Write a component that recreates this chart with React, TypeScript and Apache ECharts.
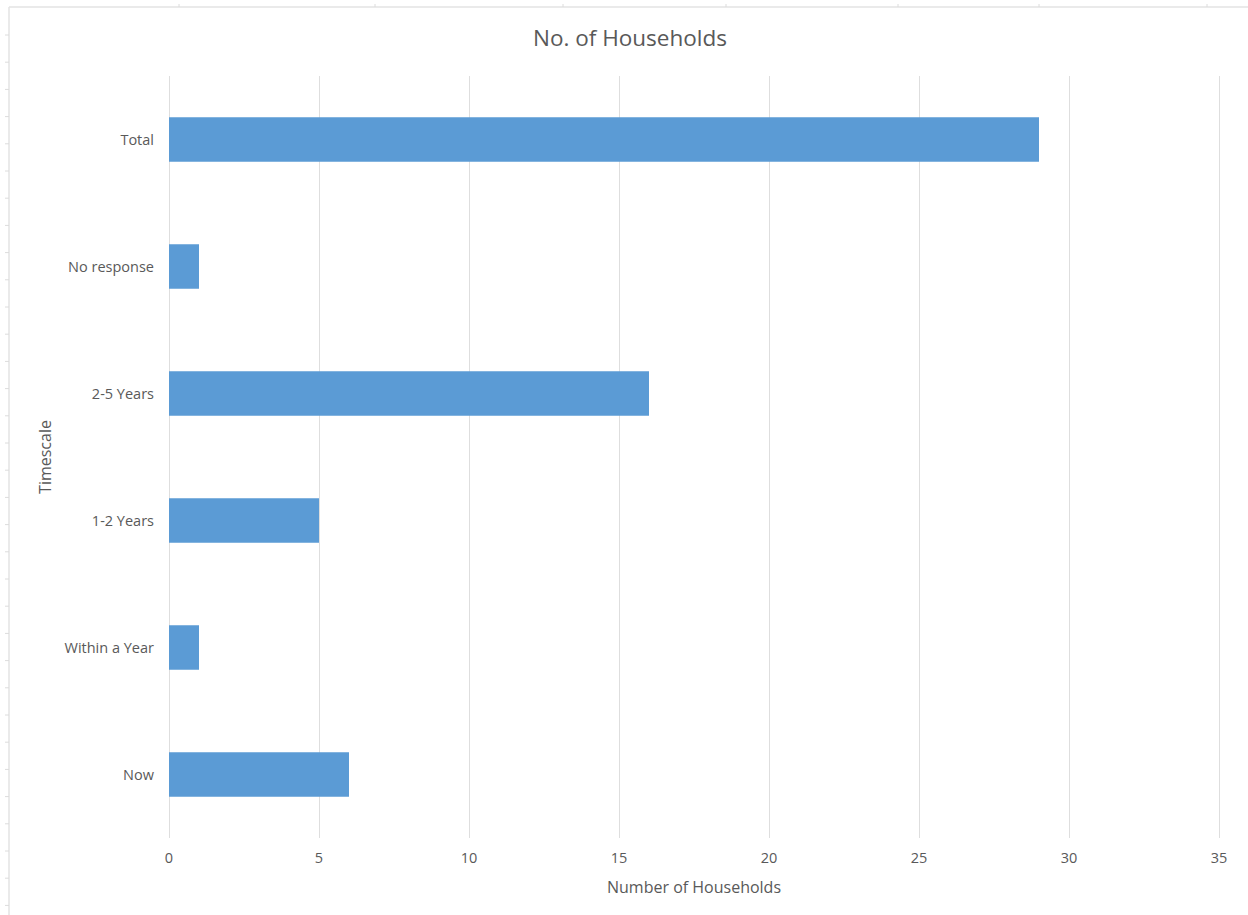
import React, { useEffect, useRef } from "react";
import * as echarts from "echarts";

const categories = ["Now", "Within a Year", "1-2 Years", "2-5 Years", "No response", "Total"];
const households = [6, 1, 5, 16, 1, 29];
const xTicks = { min: 0, max: 35, interval: 5 };

const FONT = "'Open Sans', 'Noto Sans', sans-serif";
const TEXT = "#595959";

export default function App() {
  const ref = useRef<HTMLDivElement>(null);
  useEffect(() => {
    document.body.style.margin = "0";
    const chart = echarts.init(ref.current!, null, { renderer: "svg" });
    const leftTicks: any[] = [];
    for (let y = 35; y < 912; y += 27.2) {
      leftTicks.push({
        type: "line",
        shape: { x1: 5, y1: y, x2: 9, y2: y },
        style: { stroke: "#dcdcdc", lineWidth: 1 },
        silent: true,
      });
    }
    const topTicks = [179, 375, 563, 726, 898, 1039, 1207].map((x) => ({
      type: "line",
      shape: { x1: x, y1: 4, x2: x, y2: 7 },
      style: { stroke: "#dcdcdc", lineWidth: 1 },
      silent: true,
    }));
    chart.setOption({
      animation: false,
      backgroundColor: "#ffffff",
      title: {
        text: "No. of Households",
        left: 528,
        top: 21,
        textStyle: { fontFamily: FONT, fontSize: 22.5, fontWeight: "normal", color: TEXT },
      },
      graphic: [
        { type: "line", shape: { x1: 9, y1: 7, x2: 1248, y2: 7 }, style: { stroke: "#e3e3e3", lineWidth: 1.5 }, silent: true },
        { type: "line", shape: { x1: 9, y1: 7, x2: 9, y2: 915 }, style: { stroke: "#e3e3e3", lineWidth: 1.5 }, silent: true },
        ...leftTicks,
        ...topTicks,
      ],
      grid: { left: 169, right: 29, top: 76, bottom: 77, containLabel: false },
      xAxis: {
        type: "value",
        min: xTicks.min,
        max: xTicks.max,
        interval: xTicks.interval,
        name: "Number of Households",
        nameLocation: "middle",
        nameGap: 41,
        nameTextStyle: { fontFamily: FONT, fontSize: 16, color: TEXT },
        axisLine: { show: false },
        axisTick: { show: false },
        axisLabel: { fontFamily: FONT, fontSize: 14.5, color: TEXT, margin: 12 },
        splitLine: { show: true, lineStyle: { color: "#dedede", width: 1 } },
      },
      yAxis: {
        type: "category",
        data: categories,
        name: "Timescale",
        nameLocation: "middle",
        nameGap: 116,
        nameRotate: 90,
        nameTextStyle: { fontFamily: FONT, fontSize: 16, color: TEXT },
        axisLine: { show: false },
        axisTick: { show: false },
        axisLabel: { fontFamily: FONT, fontSize: 14.5, color: TEXT, margin: 15 },
        splitLine: { show: false },
      },
      series: [
        {
          type: "bar",
          data: households,
          barWidth: "35%",
          itemStyle: { color: "#5b9bd5" },
        },
      ],
    });
    return () => chart.dispose();
  }, []);
  return <div ref={ref} style={{ width: 1248, height: 915 }} />;
}
